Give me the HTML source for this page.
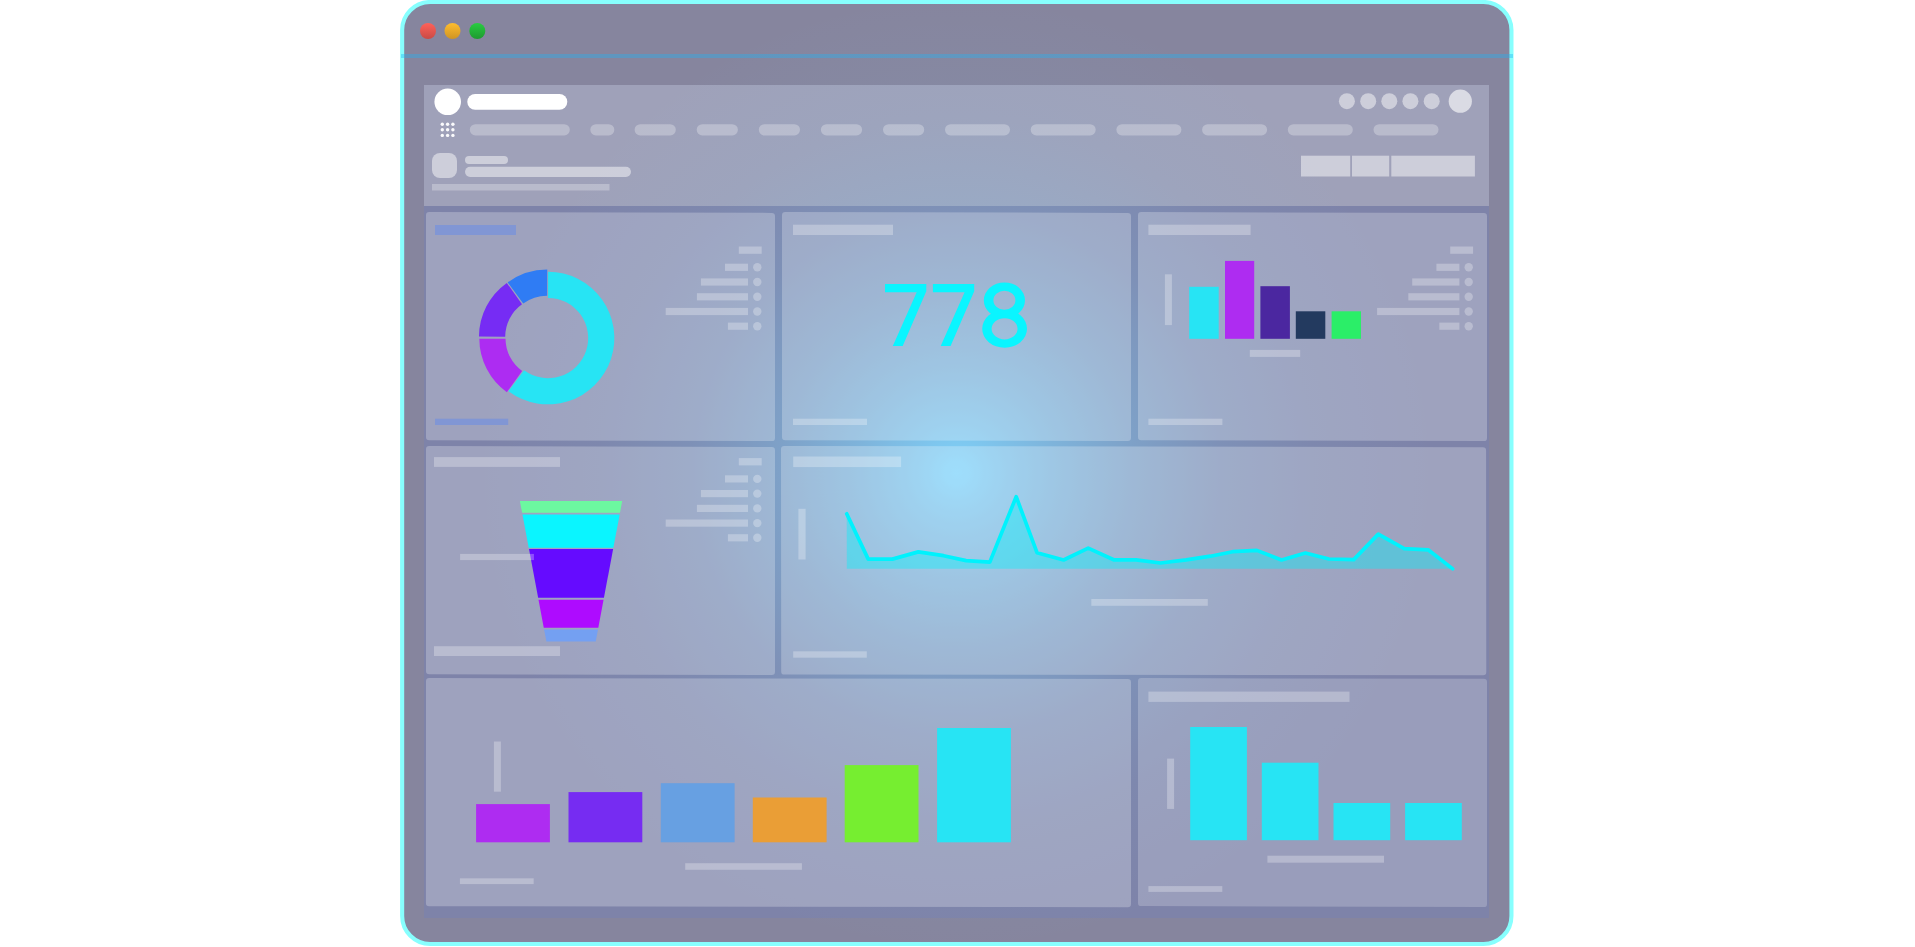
<!DOCTYPE html>
<html><head><meta charset="utf-8"><title>Dashboard</title>
<style>
html,body{margin:0;padding:0;background:#fff;overflow:hidden}
body{width:1915px;height:947px;font-family:"Liberation Sans",sans-serif}
svg{display:block;position:absolute;left:0;top:0}
text{font-family:"Liberation Sans",sans-serif}
</style></head><body>
<svg width="1915" height="947" viewBox="0 0 1915 947">
<defs>
<radialGradient id="glow" gradientUnits="userSpaceOnUse" cx="956.5" cy="473" r="480">
<stop offset="0.0000" stop-color="#7ed3fb" stop-opacity="1.0"/>
<stop offset="0.0255" stop-color="#7ed3fb" stop-opacity="0.96"/>
<stop offset="0.0617" stop-color="#7ed3fb" stop-opacity="0.87"/>
<stop offset="0.1064" stop-color="#7ed3fb" stop-opacity="0.78"/>
<stop offset="0.2128" stop-color="#7ed3fb" stop-opacity="0.6"/>
<stop offset="0.3723" stop-color="#7ed3fb" stop-opacity="0.37"/>
<stop offset="0.5532" stop-color="#7ed3fb" stop-opacity="0.17"/>
<stop offset="0.7447" stop-color="#7ed3fb" stop-opacity="0.06"/>
<stop offset="1.0000" stop-color="#7ed3fb" stop-opacity="0"/>
</radialGradient>
<clipPath id="win"><rect x="402" y="2" width="1109" height="942" rx="28" ry="28"/></clipPath>
<linearGradient id="tr" x1="0" y1="0" x2="0" y2="1"><stop offset="0" stop-color="#ff6159"/><stop offset="1" stop-color="#c94a45"/></linearGradient>
<linearGradient id="ty" x1="0" y1="0" x2="0" y2="1"><stop offset="0" stop-color="#ffbd2e"/><stop offset="1" stop-color="#cf9423"/></linearGradient>
<linearGradient id="tg" x1="0" y1="0" x2="0" y2="1"><stop offset="0" stop-color="#28cc41"/><stop offset="1" stop-color="#1f9a30"/></linearGradient>
</defs>

<rect x="402" y="2" width="1109" height="942" rx="28" ry="28" fill="#86859e"/>
<rect x="402.15" y="2" width="1109.3" height="942" rx="28" ry="28" fill="none" stroke="#87fffe" stroke-width="4.1"/>
<rect x="401" y="54" width="1112" height="4" fill="rgb(31,180,245)" fill-opacity="0.38"/>
<circle cx="428" cy="31" r="8" fill="url(#tr)"/>
<circle cx="452.5" cy="31" r="8" fill="url(#ty)"/>
<circle cx="477.3" cy="31" r="8" fill="url(#tg)"/>
<rect x="424" y="85" width="1065" height="121" fill="rgb(225,235,255)" fill-opacity="0.28"/>
<rect x="424" y="206" width="1065" height="712" fill="rgb(102,129,202)" fill-opacity="0.25"/>
<g clip-path="url(#win)"><rect x="400" y="0" width="1113" height="947" fill="url(#glow)"/></g>
<circle cx="447.7" cy="101.8" r="13.3" fill="#fff"/>
<rect x="467.3" y="94" width="100" height="15.7" rx="7.85" fill="#fff"/>
<circle cx="442.3" cy="124.3" r="1.7" fill="#fff" fill-opacity="0.95"/>
<circle cx="442.3" cy="129.8" r="1.7" fill="#fff" fill-opacity="0.95"/>
<circle cx="442.3" cy="135.4" r="1.7" fill="#fff" fill-opacity="0.95"/>
<circle cx="447.6" cy="124.3" r="1.7" fill="#fff" fill-opacity="0.95"/>
<circle cx="447.6" cy="129.8" r="1.7" fill="#fff" fill-opacity="0.95"/>
<circle cx="447.6" cy="135.4" r="1.7" fill="#fff" fill-opacity="0.95"/>
<circle cx="452.9" cy="124.3" r="1.7" fill="#fff" fill-opacity="0.95"/>
<circle cx="452.9" cy="129.8" r="1.7" fill="#fff" fill-opacity="0.95"/>
<circle cx="452.9" cy="135.4" r="1.7" fill="#fff" fill-opacity="0.95"/>
<rect x="469.8" y="124.2" width="100" height="11.2" rx="5.6" fill="#fff" fill-opacity="0.28"/>
<rect x="590.3" y="124.2" width="24" height="11.2" rx="5.6" fill="#fff" fill-opacity="0.28"/>
<rect x="634.6" y="124.2" width="41.2" height="11.2" rx="5.6" fill="#fff" fill-opacity="0.28"/>
<rect x="696.7" y="124.2" width="41.2" height="11.2" rx="5.6" fill="#fff" fill-opacity="0.28"/>
<rect x="758.8" y="124.2" width="41.2" height="11.2" rx="5.6" fill="#fff" fill-opacity="0.28"/>
<rect x="820.9" y="124.2" width="41.2" height="11.2" rx="5.6" fill="#fff" fill-opacity="0.28"/>
<rect x="883.0" y="124.2" width="41.2" height="11.2" rx="5.6" fill="#fff" fill-opacity="0.28"/>
<rect x="945.0" y="124.2" width="65" height="11.2" rx="5.6" fill="#fff" fill-opacity="0.28"/>
<rect x="1030.7" y="124.2" width="65" height="11.2" rx="5.6" fill="#fff" fill-opacity="0.28"/>
<rect x="1116.4" y="124.2" width="65" height="11.2" rx="5.6" fill="#fff" fill-opacity="0.28"/>
<rect x="1202.1" y="124.2" width="65" height="11.2" rx="5.6" fill="#fff" fill-opacity="0.28"/>
<rect x="1287.8" y="124.2" width="65" height="11.2" rx="5.6" fill="#fff" fill-opacity="0.28"/>
<rect x="1373.5" y="124.2" width="65" height="11.2" rx="5.6" fill="#fff" fill-opacity="0.28"/>
<circle cx="1346.9" cy="101.2" r="8" fill="#fff" fill-opacity="0.48"/>
<circle cx="1368.2" cy="101.2" r="8" fill="#fff" fill-opacity="0.48"/>
<circle cx="1389.3" cy="101.2" r="8" fill="#fff" fill-opacity="0.48"/>
<circle cx="1410.4" cy="101.2" r="8" fill="#fff" fill-opacity="0.48"/>
<circle cx="1431.7" cy="101.2" r="8" fill="#fff" fill-opacity="0.48"/>
<circle cx="1460.3" cy="101.2" r="11.6" fill="#fff" fill-opacity="0.62"/>
<rect x="432" y="153" width="25" height="25" rx="8" fill="#fff" fill-opacity="0.48"/>
<rect x="465" y="156" width="43" height="8" rx="4" fill="#fff" fill-opacity="0.48"/>
<rect x="465" y="166.7" width="166" height="10.2" rx="5.1" fill="#fff" fill-opacity="0.48"/>
<rect x="432" y="184" width="177.5" height="6.5" fill="#fff" fill-opacity="0.28"/>
<rect x="1301" y="155.7" width="49.2" height="20.8" fill="#fff" fill-opacity="0.48"/>
<rect x="1352" y="155.7" width="37.2" height="20.8" fill="#fff" fill-opacity="0.48"/>
<rect x="1391.3" y="155.7" width="83.6" height="20.8" fill="#fff" fill-opacity="0.48"/>
<path d="M426.00 215.20Q426.00 212.00 429.20 212.01L771.80 212.89Q775.00 212.90 775.00 216.10L775.00 437.90Q775.00 441.10 771.80 441.09L429.20 440.31Q426.00 440.30 426.00 437.10Z" fill="#fff" fill-opacity="0.25"/>
<path d="M782.00 215.20Q782.00 212.00 785.20 212.01L1127.80 212.89Q1131.00 212.90 1131.00 216.10L1131.00 437.87Q1131.00 441.07 1127.80 441.06L785.20 440.16Q782.00 440.15 782.00 436.95Z" fill="#fff" fill-opacity="0.25"/>
<path d="M1138.00 215.30Q1138.00 212.10 1141.20 212.11L1483.80 212.99Q1487.00 213.00 1487.00 216.20L1487.00 437.88Q1487.00 441.08 1483.80 441.07L1141.20 440.31Q1138.00 440.30 1138.00 437.10Z" fill="#fff" fill-opacity="0.25"/>
<path d="M426.00 449.26Q426.00 446.06 429.20 446.07L771.80 446.99Q775.00 447.00 775.00 450.20L775.00 671.80Q775.00 675.00 771.80 674.99L429.20 674.21Q426.00 674.20 426.00 671.00Z" fill="#fff" fill-opacity="0.25"/>
<path d="M781.00 449.10Q781.00 445.90 784.20 445.91L1482.90 447.19Q1486.10 447.20 1486.10 450.40L1486.30 672.00Q1486.30 675.20 1483.10 675.20L784.40 674.60Q781.20 674.60 781.20 671.40Z" fill="#fff" fill-opacity="0.25"/>
<path d="M426.00 681.30Q426.00 678.10 429.20 678.10L1127.80 679.00Q1131.00 679.00 1131.00 682.20L1131.00 904.00Q1131.00 907.20 1127.80 907.20L429.10 906.26Q425.90 906.26 425.90 903.06Z" fill="#fff" fill-opacity="0.25"/>
<path d="M1138.00 681.30Q1138.00 678.10 1141.20 678.11L1483.80 678.84Q1487.00 678.85 1487.00 682.05L1487.00 903.90Q1487.00 907.10 1483.80 907.09L1141.20 906.11Q1138.00 906.10 1138.00 902.90Z" fill="#fff" fill-opacity="0.21"/>
<rect x="435.0" y="225.0" width="81.0" height="10.0" fill="#8196d4"/>
<rect x="435.0" y="418.7" width="73.2" height="6.3" fill="#8196d4"/>
<rect x="738.8" y="246.5" width="22.9" height="7.3" fill="#fff" fill-opacity="0.28"/>
<rect x="725.0" y="263.7" width="23.0" height="7.2" fill="#fff" fill-opacity="0.28"/>
<circle cx="757.3" cy="267.3" r="4.2" fill="#fff" fill-opacity="0.28"/>
<rect x="700.9" y="278.4" width="47.1" height="7.2" fill="#fff" fill-opacity="0.28"/>
<circle cx="757.3" cy="282.0" r="4.2" fill="#fff" fill-opacity="0.28"/>
<rect x="696.9" y="293.2" width="51.1" height="7.2" fill="#fff" fill-opacity="0.28"/>
<circle cx="757.3" cy="296.8" r="4.2" fill="#fff" fill-opacity="0.28"/>
<rect x="665.7" y="307.9" width="82.3" height="7.2" fill="#fff" fill-opacity="0.28"/>
<circle cx="757.3" cy="311.5" r="4.2" fill="#fff" fill-opacity="0.28"/>
<rect x="727.9" y="322.6" width="20.1" height="7.2" fill="#fff" fill-opacity="0.28"/>
<circle cx="757.3" cy="326.2" r="4.2" fill="#fff" fill-opacity="0.28"/>
<path d="M548.07 271.77A66.3 66.3 0 1 1 508.45 391.23L524.11 370.22A40.1 40.1 0 1 0 548.07 297.97Z" fill="#27e4f4"/>
<path d="M506.83 392.26A66.3 66.3 0 0 1 479.31 338.84L505.51 338.70A40.1 40.1 0 0 0 522.15 371.01Z" fill="#ad2cf2"/>
<path d="M478.99 336.54A66.3 66.3 0 0 1 506.79 282.91L522.00 304.24A40.1 40.1 0 0 0 505.19 336.68Z" fill="#762cf4"/>
<path d="M507.68 282.42A66.3 66.3 0 0 1 547.25 269.48L547.16 295.68A40.1 40.1 0 0 0 523.22 303.50Z" fill="#2f7cf4"/>
<rect x="793.0" y="224.7" width="100.0" height="10.3" fill="#fff" fill-opacity="0.28"/>
<rect x="793.0" y="418.7" width="74.0" height="6.3" fill="#fff" fill-opacity="0.28"/>
<path d="M885.0 284.0L926.3 284.0L926.3 291.2L902.7 346.0L892.8 346.0L916.7 292.2L885.0 292.2Z" fill="#0af5ff"/>
<path d="M932.9 284.0L974.2 284.0L974.2 291.2L950.6 346.0L940.7 346.0L964.6 292.2L932.9 292.2Z" fill="#0af5ff"/>
<path fill="#0af5ff" fill-rule="nonzero" d="M983.80 300.30A20.6 17.9 0 1 1 1025.00 300.30A20.6 17.9 0 1 1 983.80 300.30ZM982.20 328.80A22.4 19.0 0 1 1 1027.00 328.80A22.4 19.0 0 1 1 982.20 328.80ZM993.40 300.30A11 9.5 0 1 0 1015.40 300.30A11 9.5 0 1 0 993.40 300.30ZM991.60 328.80A13 10.6 0 1 0 1017.60 328.80A13 10.6 0 1 0 991.60 328.80Z"/>
<rect x="1148.4" y="224.7" width="102.2" height="10.3" fill="#fff" fill-opacity="0.28"/>
<rect x="1148.4" y="418.7" width="74.0" height="6.3" fill="#fff" fill-opacity="0.28"/>
<rect x="1164.9" y="274.3" width="7.0" height="50.8" fill="#fff" fill-opacity="0.28"/>
<rect x="1189.2" y="286.8" width="29.5" height="52.0" fill="#27e4f4"/>
<rect x="1225.0" y="260.9" width="29.2" height="77.9" fill="#ae2cf1"/>
<rect x="1260.4" y="286.2" width="29.5" height="52.6" fill="#4b27a0"/>
<rect x="1295.8" y="311.3" width="29.5" height="27.5" fill="#233a5f"/>
<rect x="1331.6" y="311.3" width="29.4" height="27.5" fill="#2bee68"/>
<rect x="1249.8" y="349.9" width="50.4" height="7.0" fill="#fff" fill-opacity="0.28"/>
<rect x="1450.2" y="246.5" width="22.9" height="7.3" fill="#fff" fill-opacity="0.28"/>
<rect x="1436.4" y="263.7" width="23.0" height="7.2" fill="#fff" fill-opacity="0.28"/>
<circle cx="1468.7" cy="267.3" r="4.2" fill="#fff" fill-opacity="0.28"/>
<rect x="1412.2" y="278.4" width="47.2" height="7.2" fill="#fff" fill-opacity="0.28"/>
<circle cx="1468.7" cy="282.0" r="4.2" fill="#fff" fill-opacity="0.28"/>
<rect x="1408.3" y="293.2" width="51.1" height="7.2" fill="#fff" fill-opacity="0.28"/>
<circle cx="1468.7" cy="296.8" r="4.2" fill="#fff" fill-opacity="0.28"/>
<rect x="1377.1" y="307.9" width="82.3" height="7.2" fill="#fff" fill-opacity="0.28"/>
<circle cx="1468.7" cy="311.5" r="4.2" fill="#fff" fill-opacity="0.28"/>
<rect x="1439.3" y="322.6" width="20.1" height="7.2" fill="#fff" fill-opacity="0.28"/>
<circle cx="1468.7" cy="326.2" r="4.2" fill="#fff" fill-opacity="0.28"/>
<rect x="434.0" y="457.1" width="126.0" height="9.8" fill="#fff" fill-opacity="0.28"/>
<rect x="434.0" y="646.2" width="126.0" height="9.8" fill="#fff" fill-opacity="0.28"/>
<rect x="738.8" y="458.1" width="22.9" height="7.3" fill="#fff" fill-opacity="0.28"/>
<rect x="725.0" y="475.3" width="23.0" height="7.2" fill="#fff" fill-opacity="0.28"/>
<circle cx="757.3" cy="478.9" r="4.2" fill="#fff" fill-opacity="0.28"/>
<rect x="700.9" y="490.0" width="47.1" height="7.2" fill="#fff" fill-opacity="0.28"/>
<circle cx="757.3" cy="493.6" r="4.2" fill="#fff" fill-opacity="0.28"/>
<rect x="696.9" y="504.8" width="51.1" height="7.2" fill="#fff" fill-opacity="0.28"/>
<circle cx="757.3" cy="508.4" r="4.2" fill="#fff" fill-opacity="0.28"/>
<rect x="665.7" y="519.5" width="82.3" height="7.2" fill="#fff" fill-opacity="0.28"/>
<circle cx="757.3" cy="523.1" r="4.2" fill="#fff" fill-opacity="0.28"/>
<rect x="727.9" y="534.2" width="20.1" height="7.2" fill="#fff" fill-opacity="0.28"/>
<circle cx="757.3" cy="537.8" r="4.2" fill="#fff" fill-opacity="0.28"/>
<path d="M519.90 501L622.20 501L619.97 512.8L522.13 512.8Z" fill="#6cf8a0"/>
<path d="M522.45 514.5L619.65 514.5L613.37 547.8L528.73 547.8Z" fill="#0af5ff"/>
<path d="M528.97 549.1L613.13 549.1L603.94 597.8L538.16 597.8Z" fill="#650bff"/>
<path d="M538.53 599.8L603.57 599.8L598.30 627.7L543.80 627.7Z" fill="#ae0bff"/>
<path d="M544.12 629.4L597.98 629.4L595.70 641.5L546.40 641.5Z" fill="#74a0f2"/>
<rect x="460.1" y="553.9" width="73.8" height="6.2" fill="#fff" fill-opacity="0.28"/>
<rect x="793.2" y="456.5" width="107.9" height="10.6" fill="#fff" fill-opacity="0.28"/>
<rect x="798.4" y="508.8" width="7.2" height="50.7" fill="#fff" fill-opacity="0.28"/>
<rect x="1091.3" y="599.0" width="116.5" height="6.8" fill="#fff" fill-opacity="0.28"/>
<rect x="793.2" y="651.3" width="73.6" height="6.4" fill="#fff" fill-opacity="0.28"/>
<path d="M846.7 513.8L868.2 559.1L892.4 559.1L918.3 551.9L943.6 555.7L966.1 560.6L989.8 562.1L1016.2 496.7L1037.0 552.7L1063.6 560.0L1088.2 548.1L1113.7 559.8L1136.1 559.8L1160.5 563.0L1186.2 559.8L1210.4 556.2L1232.6 551.7L1256.8 550.4L1281.5 560.0L1305.4 553.0L1328.9 559.0L1353.7 559.6L1378.3 534.1L1404.2 548.6L1428.1 549.8L1452.7 568.9L1452.7 568.8L846.8 568.8Z" fill="#00f2fd" fill-opacity="0.39"/>
<path d="M846.7 513.8L868.2 559.1L892.4 559.1L918.3 551.9L943.6 555.7L966.1 560.6L989.8 562.1L1016.2 496.7L1037.0 552.7L1063.6 560.0L1088.2 548.1L1113.7 559.8L1136.1 559.8L1160.5 563.0L1186.2 559.8L1210.4 556.2L1232.6 551.7L1256.8 550.4L1281.5 560.0L1305.4 553.0L1328.9 559.0L1353.7 559.6L1378.3 534.1L1404.2 548.6L1428.1 549.8L1452.7 568.9" fill="none" stroke="#00f2fd" stroke-width="3.7" stroke-linejoin="round" stroke-linecap="round"/>
<rect x="493.9" y="741.5" width="7.0" height="50.2" fill="#fff" fill-opacity="0.28"/>
<rect x="476.1" y="804.1" width="73.8" height="38.2" fill="#ae2cf1"/>
<rect x="568.5" y="792.1" width="73.8" height="50.2" fill="#762cf2"/>
<rect x="660.8" y="783.2" width="73.8" height="59.1" fill="#67a0e2"/>
<rect x="752.8" y="797.5" width="73.8" height="44.8" fill="#ea9e36"/>
<rect x="844.7" y="765.1" width="73.8" height="77.2" fill="#76ee30"/>
<rect x="937.1" y="728.0" width="73.8" height="114.3" fill="#27e4f4"/>
<rect x="685.2" y="863.2" width="116.7" height="6.6" fill="#fff" fill-opacity="0.28"/>
<rect x="459.9" y="878.3" width="73.8" height="5.8" fill="#fff" fill-opacity="0.28"/>
<rect x="1148.4" y="691.6" width="201.1" height="10.3" fill="#fff" fill-opacity="0.28"/>
<rect x="1167.1" y="758.6" width="7.0" height="50.3" fill="#fff" fill-opacity="0.28"/>
<rect x="1190.2" y="727.0" width="56.7" height="113.2" fill="#27e4f4"/>
<rect x="1261.8" y="762.7" width="56.7" height="77.5" fill="#27e4f4"/>
<rect x="1333.5" y="803.0" width="56.7" height="37.2" fill="#27e4f4"/>
<rect x="1405.1" y="803.0" width="56.7" height="37.2" fill="#27e4f4"/>
<rect x="1267.4" y="855.7" width="116.6" height="7.0" fill="#fff" fill-opacity="0.28"/>
<rect x="1148.4" y="886.1" width="73.9" height="5.8" fill="#fff" fill-opacity="0.28"/>
</svg></body></html>
